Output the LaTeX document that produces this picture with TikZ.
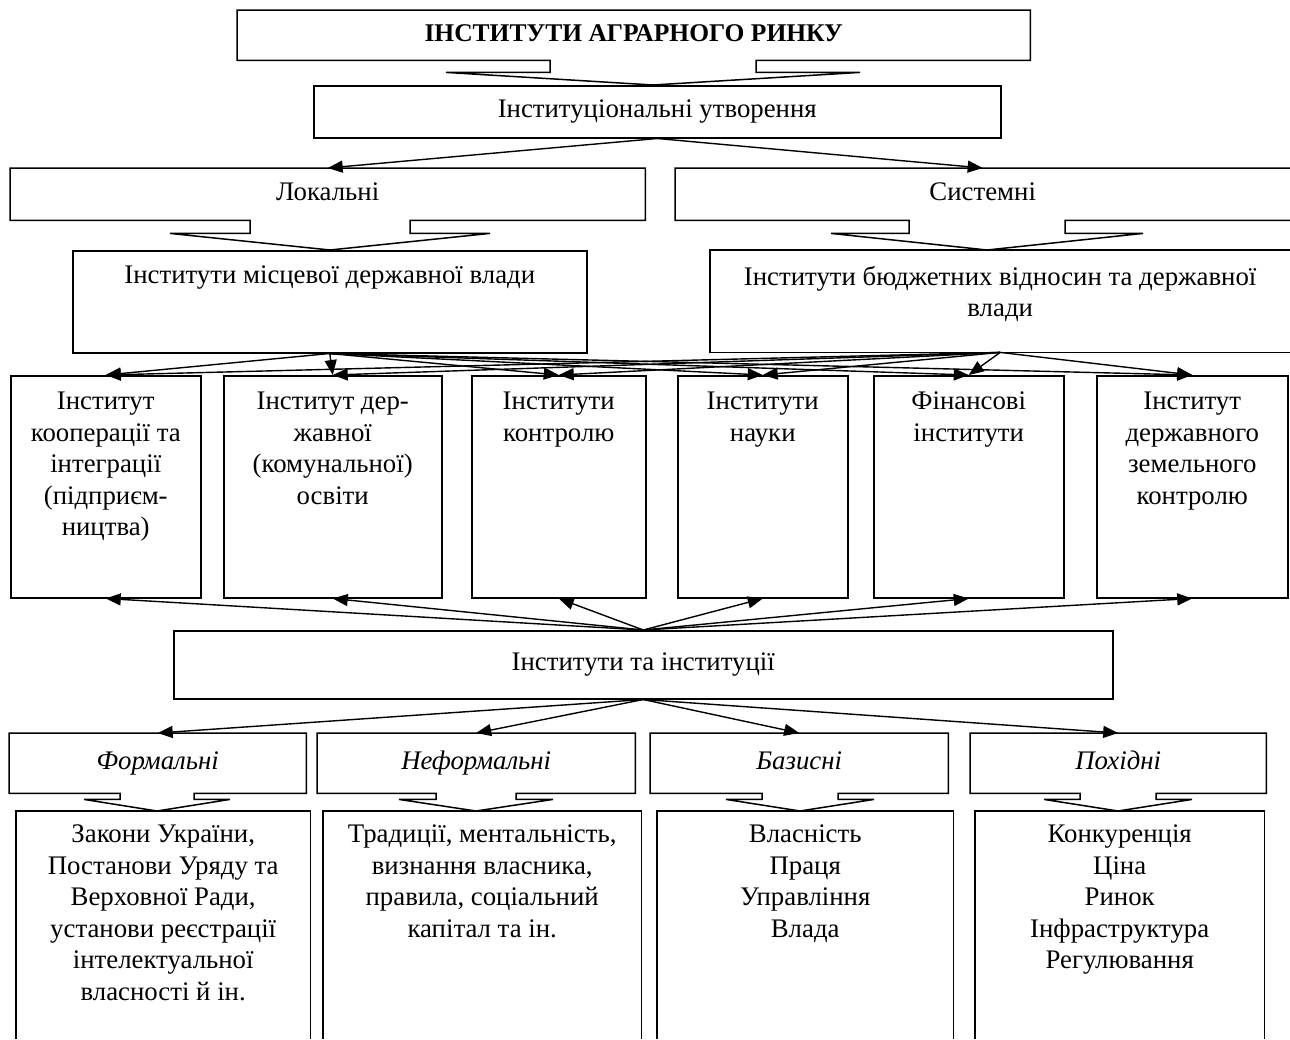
\documentclass[tikz,border=0pt]{standalone}
\usepackage{fontspec}
\setmainfont{Liberation Serif}
\usetikzlibrary{arrows.meta,calc}
% callout outline: #1 node, #2 shaft centre x, #3 shaft half width, #4 wing half width, #5 drop, #6 target node, #7 closing
\newcommand\callout[7]{%
  \pgfmathsetmacro\cL{#2-#3}\pgfmathsetmacro\cR{#2+#3}%
  \pgfmathsetmacro\wL{#2-#4}\pgfmathsetmacro\wR{#2+#4}%
  \draw[ln] (#1.north east) -- (#1.north west) -- (#1.south west)
    -- (\cL,0 |- #1.south) -- ++(0,#5) coordinate (cy)
    -- (\wL,0 |- cy) -- (#2,0 |- #6.north) -- (\wR,0 |- cy)
    -- (\cR,0 |- cy) -- (\cR,0 |- #1.south) -- (#1.south east) #7;}
\begin{document}
\begin{tikzpicture}[x=1pt,y=-1pt,
  ln/.style={line width=1.5pt, line join=miter},
  bx/.style={draw, ln, rectangle, inner sep=0pt, anchor=north west},
  shp/.style={rectangle, inner sep=0pt, anchor=north west},
  txt/.style={font=\fontsize{26.8}{31.5}\selectfont, align=center, inner sep=0pt},
  one/.style={text height=18pt, text depth=6pt},
  cat/.style={shp, txt, one, font=\fontsize{26.8}{31.5}\selectfont\itshape, minimum height=60pt},
  arr/.style={line width=1.4pt, -{Triangle[length=15pt,width=12pt]}}]
\useasboundingbox (0,0) rectangle (1290,1039);

% level 1-3
\node[shp, txt, one, font=\fontsize{25.5}{31.5}\selectfont\bfseries, minimum width=793pt, minimum height=50pt] (title) at (237,10) {ІНСТИТУТИ АГРАРНОГО РИНКУ};
\node[bx, txt, one, minimum width=687pt, minimum height=52pt] (inst) at (313,85) {Інституціональні утворення};
\node[shp, txt, one, minimum width=635pt, minimum height=52pt] (lok) at (10,168) {Локальні};
\node[shp, txt, one, minimum width=615pt, minimum height=52pt] (sys) at (675,168) {Системні};
\node[bx, minimum width=514pt, minimum height=102pt] (loc) at (72,250) {};
\node[shp, minimum width=580pt, minimum height=102pt] (bud) at (710,250) {};
\draw[ln] (bud.north east) -- (bud.north west) -- (bud.south west) -- (bud.south east);
\node[txt, anchor=north] (loct) at ($(loc.north)+(0,16)$) {Інститути місцевої державної влади};
\node[txt, anchor=north] (budt) at ($(bud.north)+(0,16)$) {Інститути бюджетних відносин та державної\\влади};

\callout{title}{653}{103}{207}{12}{inst}{-- cycle}
\callout{lok}{330}{80}{160}{13}{loc}{-- cycle}
\callout{sys}{987}{78}{156}{13}{bud}{}

\draw[arr] (inst.south) -- (lok.north);
\draw[arr] (inst.south) -- (sys.north);

% row of six institutes
\node[bx, minimum width=190pt, minimum height=222pt] (k1) at (10,375) {};
\node[bx, minimum width=218pt, minimum height=222pt] (k2) at (223,375) {};
\node[bx, minimum width=174pt, minimum height=222pt] (k3) at (471,375) {};
\node[bx, minimum width=170pt, minimum height=222pt] (k4) at (677,375) {};
\node[bx, minimum width=190pt, minimum height=222pt] (k5) at (873,375) {};
\node[bx, minimum width=191pt, minimum height=222pt] (k6) at (1096,375) {};
\node[txt, anchor=north] (k1t) at ($(k1.north)+(0,17)$) {Інститут\\кооперації та\\інтеграції\\(підприєм-\\ництва)};
\node[txt, anchor=north] (k2t) at ($(k2.north)+(0,17)$) {Інститут дер-\\жавної\\(комунальної)\\освіти};
\node[txt, anchor=north] (k3t) at ($(k3.north)+(0,17)$) {Інститути\\контролю};
\node[txt, anchor=north] (k4t) at ($(k4.north)+(0,17)$) {Інститути\\науки};
\node[txt, anchor=north] (k5t) at ($(k5.north)+(0,17)$) {Фінансові\\інститути};
\node[txt, anchor=north] (k6t) at ($(k6.north)+(0,17)$) {Інститут\\державного\\земельного\\контролю};

\foreach \k in {k1,k2,k3,k4,k5,k6}{
  \draw[arr] (loc.south) -- (\k.north);
  \draw[arr] (bud.south) -- (\k.north);
}

% institutions
\node[bx, txt, one, minimum width=939pt, minimum height=68pt] (ii) at (173,630) {Інститути та інституції};
\foreach \k in {k1,k2,k3,k4,k5,k6}{
  \draw[arr] (ii.north) -- (\k.south);
}

% categories
\node[cat, minimum width=297pt] (c1) at (9,733) {Формальні};
\node[cat, minimum width=318pt] (c2) at (317,733) {Неформальні};
\node[cat, minimum width=298pt] (c3) at (650,733) {Базисні};
\node[cat, minimum width=296pt] (c4) at (970,733) {Похідні};
\foreach \c in {c1,c2,c3,c4}{
  \draw[arr] (ii.south) -- (\c.north);
}

% bottom boxes (open at the bottom)
\node[shp, minimum width=294pt, minimum height=228pt] (b1) at (16,811) {};
\node[shp, minimum width=318pt, minimum height=228pt] (b2) at (323,811) {};
\node[shp, minimum width=296pt, minimum height=228pt] (b3) at (657,811) {};
\node[shp, minimum width=289pt, minimum height=228pt] (b4) at (975,811) {};
\foreach \b in {b1,b2,b3,b4}{
  \draw[ln] (\b.south west) -- (\b.north west) -- (\b.north east) -- (\b.south east);
}
\callout{c1}{157}{37}{73}{6}{b1}{-- cycle}
\callout{c2}{476}{40}{77}{6}{b2}{-- cycle}
\callout{c3}{800}{38}{74}{6}{b3}{-- cycle}
\callout{c4}{1118}{38}{74}{6}{b4}{-- cycle}

\node[txt, anchor=north] (b1t) at ($(b1.north)+(0,14)$) {Закони України,\\Постанови Уряду та\\Верховної Ради,\\установи реєстрації\\інтелектуальної\\власності й ін.};
\node[txt, anchor=north] (b2t) at ($(b2.north)+(0,14)$) {Традиції, ментальність,\\визнання власника,\\правила, соціальний\\капітал та ін.};
\node[txt, anchor=north] (b3t) at ($(b3.north)+(0,14)$) {Власність\\Праця\\Управління\\Влада};
\node[txt, anchor=north] (b4t) at ($(b4.north)+(0,14)$) {Конкуренція\\Ціна\\Ринок\\Інфраструктура\\Регулювання};
\end{tikzpicture}
\end{document}
